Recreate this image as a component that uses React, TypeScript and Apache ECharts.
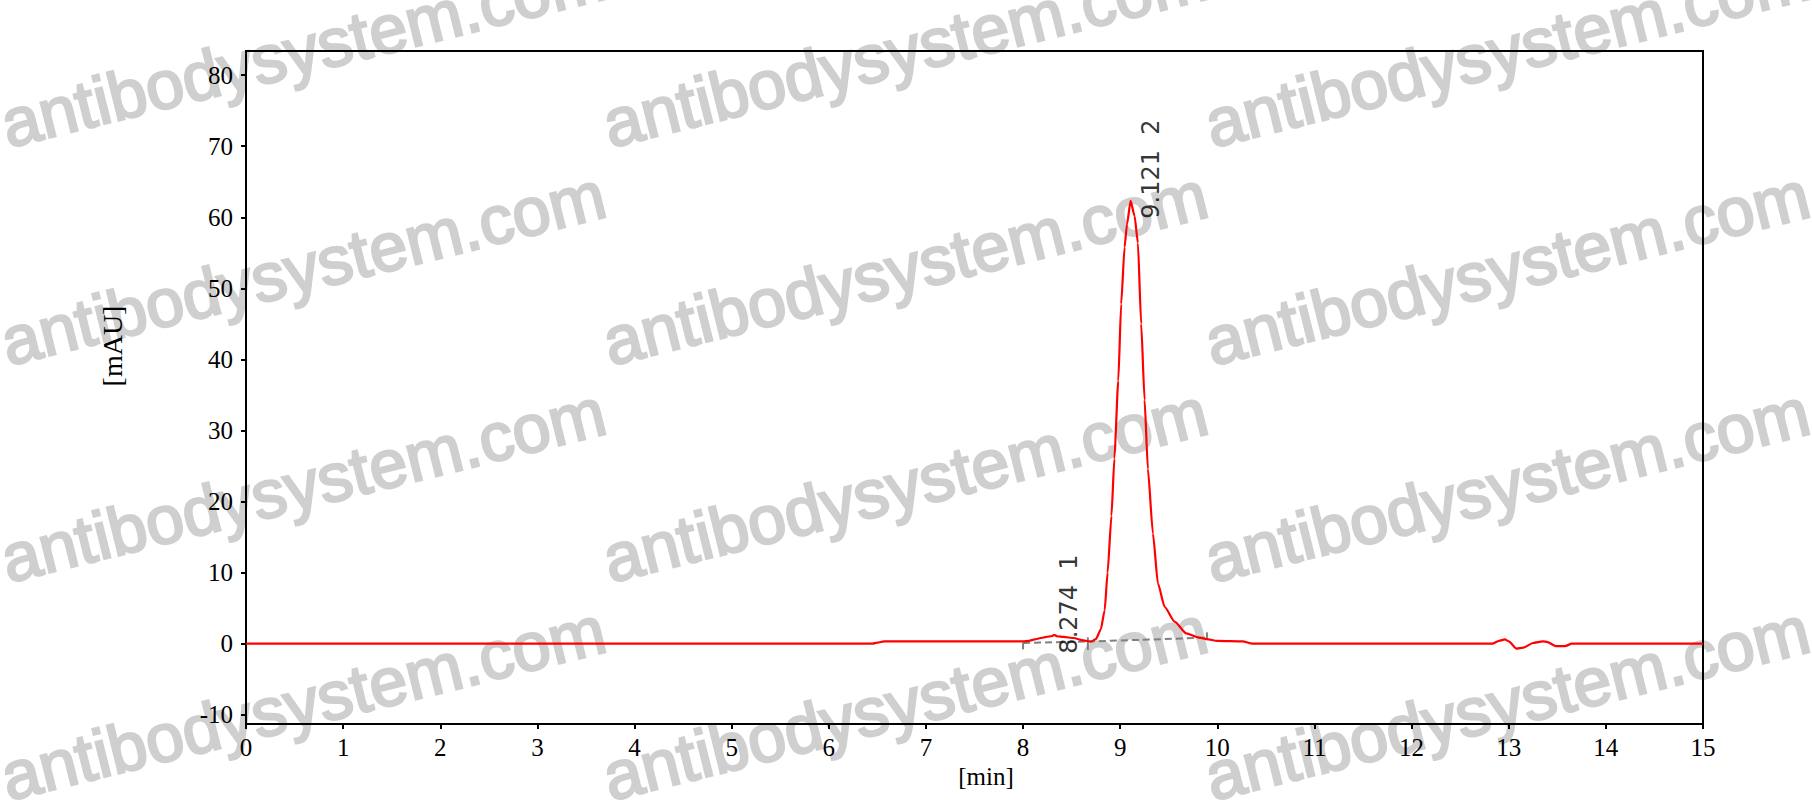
import { useEffect, useRef } from "react";
import * as echarts from "echarts";

// chromatogram trace
const traceTime = [0, 6.45, 6.5, 6.57, 8.0, 8.06, 8.12, 8.18, 8.24, 8.3, 8.32, 8.35, 8.42, 8.52, 8.62, 8.7, 8.75, 8.8, 8.84, 8.87, 8.91, 8.94, 8.98, 9.01, 9.045, 9.07, 9.107, 9.148, 9.182, 9.216, 9.251, 9.285, 9.337, 9.388, 9.457, 9.56, 9.68, 9.8, 9.89, 10.0, 10.26, 10.36, 12.83, 12.9, 12.96, 13.0, 13.08, 13.15, 13.25, 13.35, 13.4, 13.48, 13.58, 13.65, 15];
const traceMAU = [0, 0, 0.15, 0.33, 0.33, 0.4, 0.6, 0.8, 0.95, 1.08, 1.25, 1.05, 0.95, 0.8, 0.47, 0.3, 0.65, 2.0, 4.7, 10, 18, 26, 37, 47.8, 55.8, 59, 62.3, 60.2, 56.4, 45, 34.3, 24.6, 15.5, 8.5, 5.2, 3.1, 1.45, 0.9, 0.65, 0.4, 0.33, 0, 0, 0.4, 0.6, 0.33, -0.7, -0.56, 0.1, 0.33, 0.23, -0.33, -0.33, 0, 0];

// peaks
const peakRT = [8.274, 9.121];
const peakNo = [1, 2];
const peakApex = [1.1, 62.3];

// integration baselines
const baseStartT = [8.0, 8.667];
const baseStartY = [0.1, 0.3];
const baseEndT = [8.667, 9.893];
const baseEndY = [0.3, 0.85];
const markT = [8.0, 8.667, 9.893];
const markLow = [-0.8, -0.9, 0.6];
const markHigh = [0.1, 0.9, 1.6];

const xTicks = [0, 1, 2, 3, 4, 5, 6, 7, 8, 9, 10, 11, 12, 13, 14, 15];
const yTicks = [-10, 0, 10, 20, 30, 40, 50, 60, 70, 80];

const SERIF = "'Liberation Serif', 'Times New Roman', serif";
const SANS = "'DejaVu Sans', Verdana, sans-serif";

function watermark() {
  const out: any[] = [];
  const cols = [8, 610, 1212];
  const rows = [147, 365, 582, 800];
  for (const y of rows) {
    for (const x of cols) {
      out.push({
        type: "text",
        x,
        y,
        rotation: (14 * Math.PI) / 180,
        z: -10,
        silent: true,
        style: {
          text: "antibodysystem.com",
          x: 0,
          y: -23,
          textAlign: "left",
          textVerticalAlign: "middle",
          font: "68px 'Liberation Sans', Arial, sans-serif",
          fill: "#cfcfcf",
          stroke: "#cfcfcf",
          lineWidth: 2.4,
        },
      });
    }
  }
  return out;
}

export default function App() {
  const ref = useRef<HTMLDivElement | null>(null);

  useEffect(() => {
    const el = ref.current!;
    const chart = echarts.init(el, null, { renderer: "svg" });

    const trace = traceTime.map((t, i) => [t, traceMAU[i]]);

    const baseSeries = baseStartT.map((t, i) => ({
      type: "line",
      silent: true,
      symbol: "none",
      z: 3,
      lineStyle: { color: "#808080", width: 2, type: [7, 4] },
      data: [[t, baseStartY[i]], [baseEndT[i], baseEndY[i]]],
    }));

    const markSeries = markT.map((t, i) => ({
      type: "line",
      silent: true,
      symbol: "none",
      z: 3,
      lineStyle: { color: "#808080", width: 2 },
      data: [[t, markLow[i]], [t, markHigh[i]]],
    }));

    chart.setOption({
      animation: false,
      grid: {
        left: 246,
        right: 109,
        top: 51,
        bottom: 81,
        show: true,
        borderColor: "#000",
        borderWidth: 2,
        backgroundColor: "transparent",
      },
      graphic: [
        ...watermark(),
        {
          type: "text",
          x: 112,
          y: 346,
          rotation: Math.PI / 2,
          style: {
            text: "[mAU]",
            textAlign: "center",
            textVerticalAlign: "middle",
            font: `28px ${SERIF}`,
            fill: "#000",
          },
        },
        {
          type: "text",
          x: 986,
          y: 776,
          style: {
            text: "[min]",
            textAlign: "center",
            textVerticalAlign: "middle",
            font: `25px ${SERIF}`,
            fill: "#000",
          },
        },
      ],
      xAxis: {
        type: "value",
        min: 0,
        max: 15,
        splitLine: { show: false },
        axisLine: { show: true, onZero: false, lineStyle: { color: "#000", width: 2 } },
        axisTick: { show: true, length: 5, customValues: xTicks, lineStyle: { color: "#000", width: 2 } },
        axisLabel: { customValues: xTicks, color: "#000", fontFamily: SERIF, fontSize: 25, margin: 11 },
      },
      yAxis: {
        type: "value",
        min: -11.3,
        max: 83.4,
        splitLine: { show: false },
        axisLine: { show: true, onZero: false, lineStyle: { color: "#000", width: 2 } },
        axisTick: { show: true, length: 5, customValues: yTicks, lineStyle: { color: "#000", width: 2 } },
        axisLabel: { customValues: yTicks, color: "#000", fontFamily: SERIF, fontSize: 25, margin: 13 },
      },
      series: [
        ...baseSeries,
        ...markSeries,
        {
          type: "line",
          name: "signal",
          silent: true,
          symbol: "none",
          smooth: 0.2,
          smoothMonotone: "x",
          z: 4,
          lineStyle: { color: "#ff0000", width: 2.2 },
          data: trace,
        },
        {
          type: "scatter",
          silent: true,
          symbolSize: 0,
          z: 5,
          data: peakRT.map((rt, i) => [rt + 0.195, peakApex[i] - 2.5, `${rt.toFixed(3)}  ${peakNo[i]}`]),
          label: {
            show: true,
            position: [0, 0],
            rotate: 90,
            align: "left",
            verticalAlign: "middle",
            color: "#000",
            fontFamily: SANS,
            fontSize: 24,
            formatter: (p: any) => p.value[2],
          },
        },
      ],
    });

    return () => chart.dispose();
  }, []);

  return (
    <div
      ref={ref}
      style={{ position: "fixed", left: 0, top: 0, width: 1812, height: 805, background: "#fff" }}
    />
  );
}
